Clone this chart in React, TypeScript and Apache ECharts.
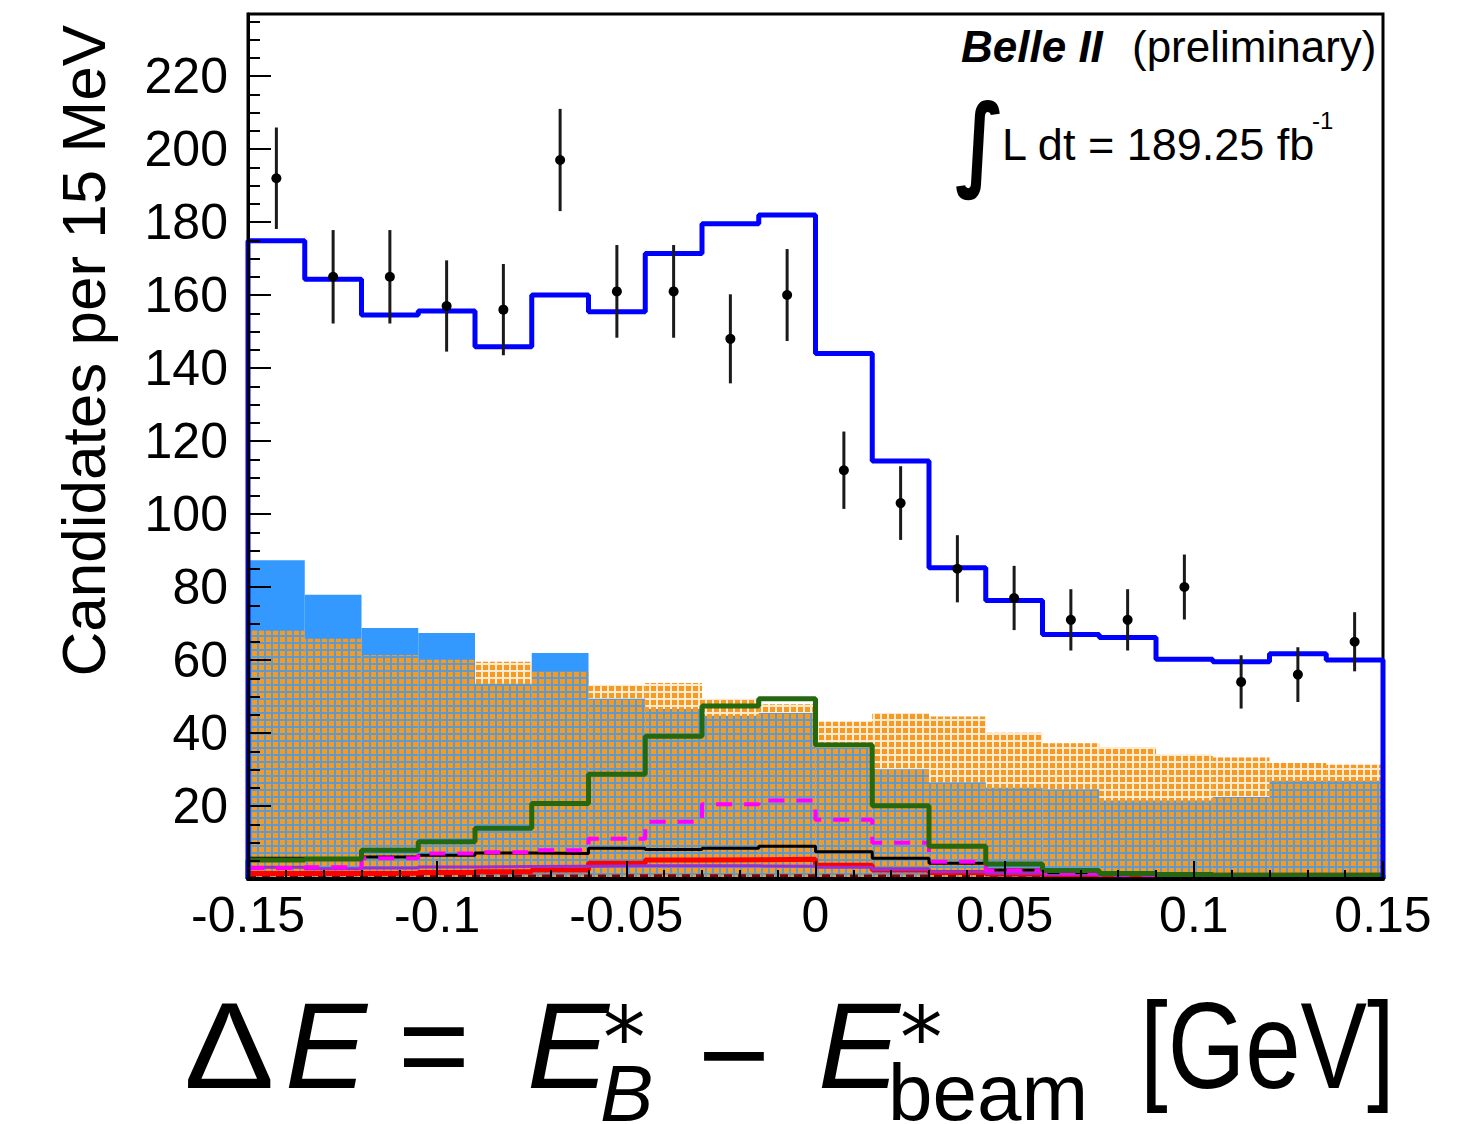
import React, { useEffect, useRef } from 'react';
import * as echarts from 'echarts';

// ---- data ----
const binEdges = [-0.15, -0.135, -0.12, -0.105, -0.09, -0.075, -0.06, -0.045, -0.03, -0.015, 0, 0.015, 0.03, 0.045, 0.06, 0.075, 0.09, 0.105, 0.12, 0.135, 0.15];
const binCenters = [-0.1425, -0.1275, -0.1125, -0.0975, -0.0825, -0.0675, -0.0525, -0.0375, -0.0225, -0.0075, 0.0075, 0.0225, 0.0375, 0.0525, 0.0675, 0.0825, 0.0975, 0.1125, 0.1275, 0.1425];

const dataCounts = [192, 165, 165, 157, 156, 197, 161, 161, 148, 160, 112, 103, 85, 77, 71, 71, 80, 54, 56, 65];
const dataErrors = [13.9, 12.8, 12.8, 12.5, 12.5, 14.0, 12.7, 12.7, 12.2, 12.6, 10.6, 10.1, 9.2, 8.8, 8.4, 8.4, 8.9, 7.3, 7.5, 8.1];

const totalFit = [174.9, 164.3, 154.5, 155.6, 145.8, 160.0, 155.4, 171.4, 179.5, 181.9, 144.0, 114.5, 85.3, 76.3, 67.0, 66.2, 60.2, 59.5, 61.7, 60.0];
const continuumBlue = [87.3, 77.9, 68.8, 67.4, 53.5, 61.9, 49.4, 46.6, 44.7, 45.5, 35.9, 30.1, 26.5, 25.0, 24.6, 21.5, 21.5, 22.5, 26.9, 26.9];
const backgroundOrange = [68.0, 65.8, 61.4, 60.1, 59.5, 57.0, 53.2, 53.7, 49.4, 47.9, 43.1, 45.5, 44.5, 40.1, 37.2, 36.2, 34.2, 33.3, 31.8, 31.3];
const signalGreen = [5.2, 5.5, 7.9, 10.2, 13.9, 20.7, 28.7, 39.1, 47.4, 49.4, 36.7, 20.1, 9.0, 4.1, 2.3, 1.5, 1.2, 1.0, 1.0, 1.0];
const magentaDashed = [3.0, 3.2, 5.7, 7.0, 7.3, 7.9, 11.0, 15.7, 20.5, 21.5, 16.2, 9.9, 4.7, 2.3, 1.5, 1.0, 1.0, 1.0, 1.0, 1.0];
const blackComp = [5.7, 5.5, 6.0, 6.5, 7.1, 7.0, 8.4, 8.1, 8.4, 9.0, 7.5, 5.7, 4.3, 2.5, 1.8, 1.6, 1.3, 1.0, 1.0, 1.0];
const redComp = [1.5, 1.5, 1.6, 1.8, 2.0, 2.5, 4.3, 5.2, 5.3, 5.4, 3.8, 2.5, 1.8, 1.4, 1.2, 1.1, 1.0, 1.0, 1.0, 1.0];
const purpleComp = [3.2, 2.8, 3.0, 3.3, 3.4, 3.5, 3.6, 3.6, 3.6, 3.5, 3.2, 2.6, 2.0, 1.6, 1.3, 1.2, 1.1, 1.0, 1.0, 1.0];
const darkRedComp = [0.8, 0.8, 0.8, 0.8, 0.8, 0.8, 0.9, 0.9, 0.9, 0.9, 0.8, 0.8, 0.8, 0.8, 0.8, 0.8, 0.8, 0.8, 0.8, 0.8];

const SANS = '"Liberation Sans", Arial, Helvetica, sans-serif';
const DEJAVU = '"DejaVu Sans", sans-serif';

function stepData(values: number[], edges: boolean) {
  const pts: number[][] = values.map((v, i) => [binEdges[i], v]);
  pts.push([binEdges[binEdges.length - 1], values[values.length - 1]]);
  if (edges) {
    pts.unshift([binEdges[0], 0]);
    pts.push([binEdges[binEdges.length - 1], 0]);
  }
  return pts;
}

function stepSeries(name: string, values: number[], color: string, width: number, type: any, edges: boolean, z: number) {
  return {
    name,
    type: 'line',
    xAxisIndex: 0,
    yAxisIndex: 0,
    data: stepData(values, edges),
    step: 'end',
    symbol: 'none',
    silent: true,
    z,
    lineStyle: { color, width, type },
  };
}

// baseline y (alphabetic) -> middle y for central-baseline rendering
const mid = (baseline: number, fs: number, k = 0.3465) => baseline - k * fs;

function txt(text: string, x: number, baseline: number, fs: number, extra: any = {}, family = SANS, k = 0.3465) {
  const { style, ...rest } = extra;
  return {
    type: 'text',
    x,
    y: mid(baseline, fs, k),
    z: 100,
    ...rest,
    style: {
      text,
      fontSize: fs,
      fontFamily: family,
      fill: '#000',
      textAlign: 'left',
      textVerticalAlign: 'middle',
      ...(style || {}),
    },
  };
}

export default function App() {
  const ref = useRef<HTMLDivElement>(null);
  useEffect(() => {
    if (!ref.current) return;
    const chart = echarts.init(ref.current, undefined, { renderer: 'svg' });
    const option: any = {
      animation: false,
      backgroundColor: '#ffffff',
      grid: {
        left: 248, right: 94, top: 14, bottom: 245,
        show: true, borderColor: '#000', borderWidth: 3, backgroundColor: 'transparent',
      },
      xAxis: [
        {
          type: 'value', min: -0.15, max: 0.15, interval: 0.05, position: 'bottom', z: 10,
          axisLine: { show: true, onZero: false, lineStyle: { color: '#000', width: 4 } },
          axisTick: { show: true, inside: true, length: 18, lineStyle: { color: '#000', width: 2 } },
          minorTick: { show: true, splitNumber: 5, length: 9, lineStyle: { color: '#000', width: 2 } },
          splitLine: { show: false },
          axisLabel: { fontFamily: SANS, fontSize: 50, color: '#000', margin: 11 },
        },
        {
          type: 'category', data: binCenters.map(String), show: false, boundaryGap: true, position: 'top',
        },
      ],
      yAxis: {
        type: 'value', min: 0, max: 237, interval: 20, z: 10,
        axisLine: { show: true, onZero: false, lineStyle: { color: '#000', width: 3 } },
        axisTick: { show: true, inside: true, length: 23, lineStyle: { color: '#000', width: 2 } },
        minorTick: { show: true, splitNumber: 4, length: 12, lineStyle: { color: '#000', width: 2 } },
        splitLine: { show: false },
        axisLabel: {
          fontFamily: SANS, fontSize: 50, color: '#000', margin: 20,
          formatter: (v: number) => (v > 0 && Math.abs(v % 20) < 1e-9 ? String(v) : ''),
        },
      },
      series: [
        {
          name: 'continuum', type: 'bar', xAxisIndex: 1, yAxisIndex: 0, data: continuumBlue,
          barWidth: '100%', barGap: '-100%', silent: true, z: 2,
          itemStyle: { color: '#3399ff', decal: 'none' },
        },
        {
          name: 'bkg', type: 'bar', xAxisIndex: 1, yAxisIndex: 0, data: backgroundOrange,
          barWidth: '100%', barGap: '-100%', silent: true, z: 3,
          itemStyle: {
            color: 'rgba(247,158,40,0.22)',
            decal: {
              symbol: 'rect', symbolSize: 1, symbolKeepAspect: false,
              dashArrayX: [5, 2], dashArrayY: [5, 2], color: '#f59a22', rotation: 0,
            },
          },
        },
        stepSeries('darkred', darkRedComp, '#8b0000', 3, [8, 6], false, 4),
        stepSeries('red', redComp, '#ff0000', 5, 'solid', false, 5),
        stepSeries('purple', purpleComp, '#9a2fd0', 3, 'solid', false, 5),
        stepSeries('black', blackComp, '#000000', 3, 'solid', false, 6),
        stepSeries('magenta', magentaDashed, '#ff00ff', 4, [16, 12], false, 6),
        stepSeries('green', signalGreen, '#24690f', 5, 'solid', true, 7),
        stepSeries('total', totalFit, '#0000ff', 5, 'solid', true, 8),
        {
          name: 'data', type: 'custom', xAxisIndex: 0, yAxisIndex: 0, z: 9, silent: true,
          data: binCenters.map((c, i) => [c, dataCounts[i], dataErrors[i]]),
          renderItem: (params: any, api: any) => {
            const x = api.value(0);
            const y = api.value(1);
            const e = api.value(2);
            const p = api.coord([x, y]);
            const hi = api.coord([x, y + e]);
            const lo = api.coord([x, y - e]);
            return {
              type: 'group',
              children: [
                { type: 'line', shape: { x1: p[0], y1: hi[1], x2: p[0], y2: lo[1] }, style: { stroke: '#1a1a1a', lineWidth: 3 } },
                { type: 'circle', shape: { cx: p[0], cy: p[1], r: 5 }, style: { fill: '#000' } },
              ],
            };
          },
        },
      ],
      graphic: [
        // y-axis title
        {
          type: 'text', x: 83.5, y: 25, rotation: Math.PI / 2, z: 100,
          style: { text: 'Candidates per 15 MeV', fontSize: 62, fontFamily: SANS, fill: '#000', textAlign: 'right', textVerticalAlign: 'middle' },
        },
        // Belle II label
        txt('Belle II', 961, 62, 44, { style: { fontWeight: 'bold', fontStyle: 'italic' } }),
        txt('(preliminary)', 1132, 62, 44),
        txt('\u222B', 955, 176.5, 102, { scaleX: 0.8, style: { fontWeight: 'bold' } }, DEJAVU, 0.346),
        txt('L dt = 189.25 fb', 1002, 160, 45),
        txt('-1', 1312, 129, 24),
        // x-axis title
        txt('\u0394', 184, 1088, 123, { scaleX: 1.1 }),
        txt('E', 285, 1088, 123, { style: { fontStyle: 'italic' } }),
        txt('=', 398, 1088, 123),
        txt('E', 527, 1088, 123, { style: { fontStyle: 'italic' } }),
        txt('*', 603, 1068, 85, {}, DEJAVU, 0.346),
        txt('B', 600, 1121, 80, { style: { fontStyle: 'italic' } }),
        txt('\u2212', 698, 1097, 123),
        txt('E', 818, 1088, 123, { style: { fontStyle: 'italic' } }),
        txt('*', 900, 1068, 85, {}, DEJAVU, 0.346),
        txt('beam', 888, 1120, 80),
        txt('[GeV]', 1140, 1088, 123, { scaleX: 0.81 }),
      ],
    };
    chart.setOption(option);
    return () => chart.dispose();
  }, []);
  return <div ref={ref} style={{ position: 'absolute', left: 0, top: 0, width: 1477, height: 1124, background: '#fff' }} />;
}
